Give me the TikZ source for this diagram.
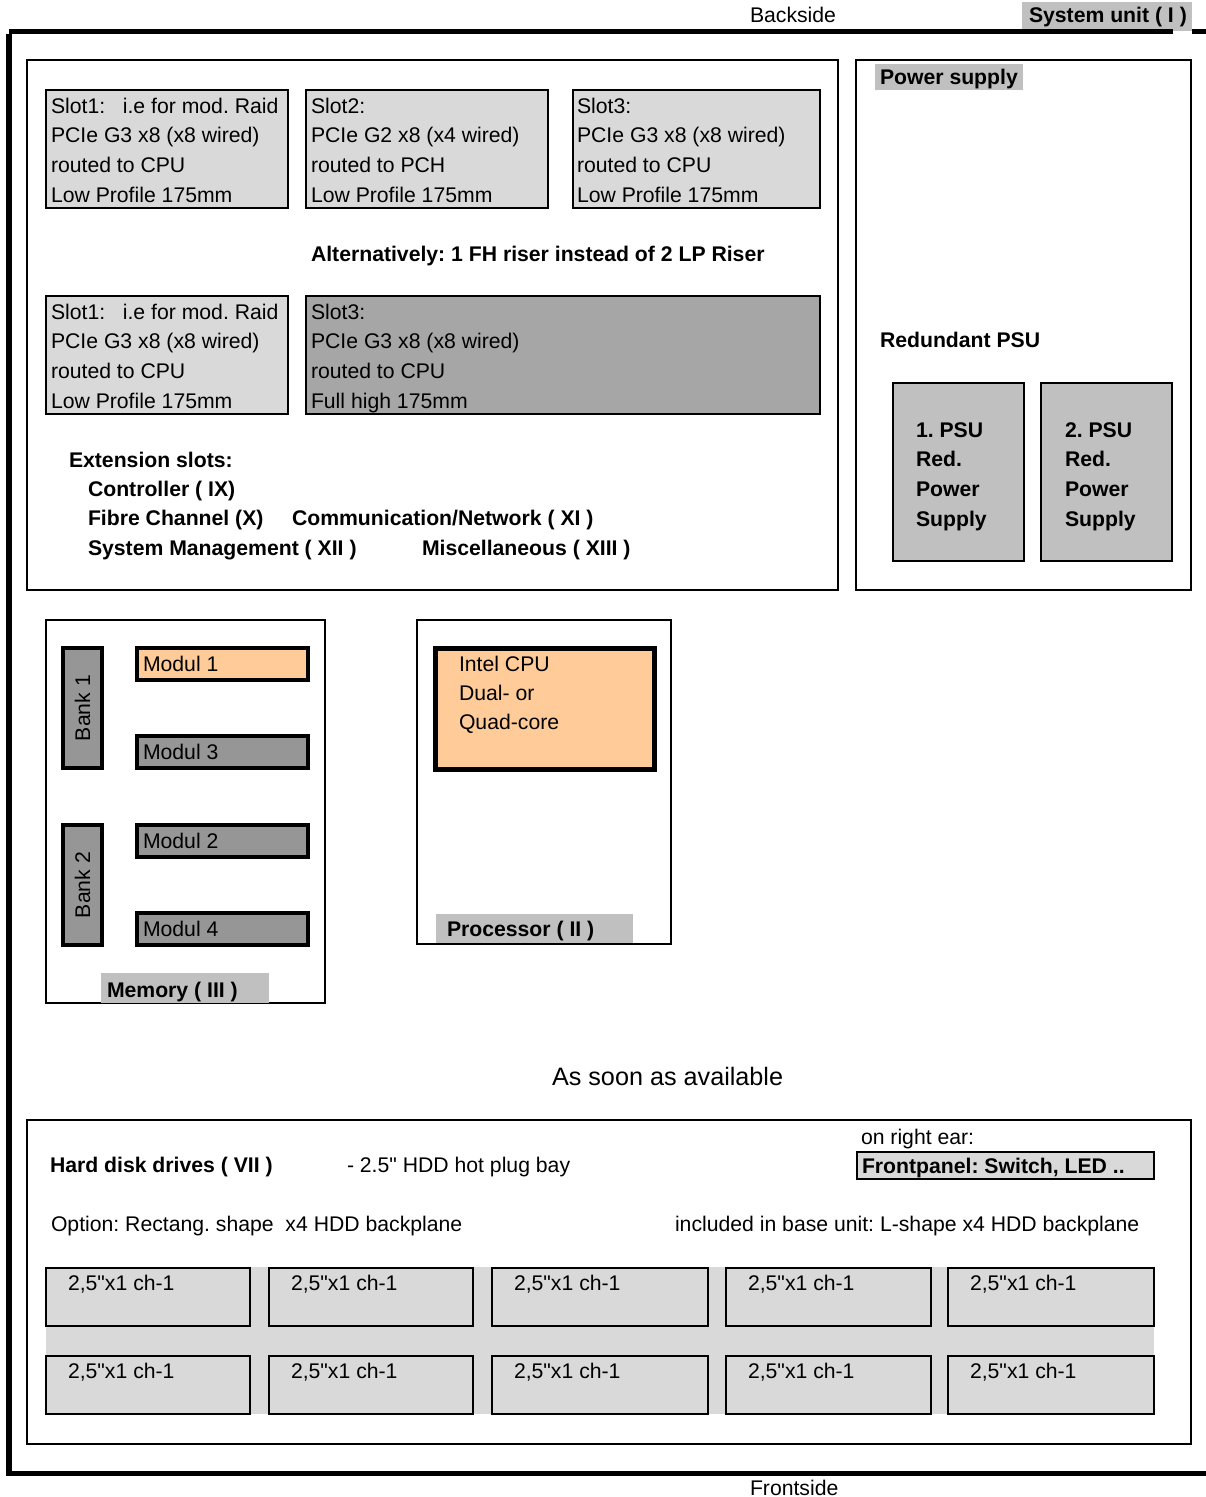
\documentclass[tikz,border=0pt]{standalone}
\usepackage{fontspec}
\setmainfont{Liberation Sans}
\frenchspacing
\definecolor{lgray}{HTML}{D9D9D9}
\definecolor{mgray}{HTML}{C0C0C0}
\definecolor{fhgray}{HTML}{A6A6A6}
\definecolor{dgray}{HTML}{969696}
\definecolor{peach}{HTML}{FFCC99}
\begin{document}
\begin{tikzpicture}[x=1pt,y=-1pt,
  every node/.style={inner sep=0pt, outer sep=0pt},
  frame/.style={draw=black, line width=2pt, anchor=north west},
  slotbox/.style={draw=black, line width=2pt, fill=lgray, anchor=north west},
  fhbox/.style={slotbox, fill=fhgray},
  psubox/.style={draw=black, line width=2.5pt, fill=mgray, anchor=north west},
  modbox/.style={draw=black, line width=4pt, fill=dgray, anchor=north west},
  cpubox/.style={draw=black, line width=5pt, fill=peach, anchor=north west},
  labelbg/.style={fill=mgray, anchor=north west},
  txt/.style={font=\fontsize{21.2}{29.7}\selectfont, anchor=base west, align=left},
  btxt/.style={font=\fontsize{21.2}{29.7}\selectfont\bfseries, anchor=base west, align=left},
  hddbox/.style={draw=black, line width=2pt, fill=lgray, anchor=north west, minimum height=58pt}
]
\useasboundingbox (0,0) rectangle (1206,1497);

% ---------- outer system frame ----------
\node[labelbg, minimum width=170pt, minimum height=29pt] (sysbg) at (1022,2) {};
\coordinate (tl) at (9,31);
\coordinate (tgap1) at (1173,31);
\coordinate (tgap2) at (1192,31);
\coordinate (tr) at (1206,31);
\coordinate (bl) at (9,1473);
\coordinate (br) at (1206,1473);
\draw[line width=5pt] (tl) -- (tgap1);
\draw[line width=5pt] (tgap2) -- (tr);
\draw[line width=6pt] ([yshift=-2.5pt]tl) -- ([yshift=2.5pt]bl);
\draw[line width=5pt] ([xshift=-3pt]bl) -- (br);
\node[txt] (backside) at (750,22) {Backside};
\node[btxt] (sysunit) at (1029,22) {System unit ( I )};
\node[txt] (frontside) at (750,1495) {Frontside};

% ---------- extension slot area ----------
% (multi-line texts: base anchor = baseline of last line, first baseline + 3 x 29.7)
\node[frame, minimum width=811pt, minimum height=530pt] (slotarea) at (27,60) {};
\node[slotbox, minimum width=242pt, minimum height=118pt] (s1a) at (46,90) {};
\node[slotbox, minimum width=242pt, minimum height=118pt] (s2a) at (306,90) {};
\node[slotbox, minimum width=247pt, minimum height=118pt] (s3a) at (573,90) {};
\node[txt] (t1a) at (51,202.1) {Slot1:\ \ \ i.e for mod. Raid\\PCIe G3 x8 (x8 wired)\\routed to CPU\\Low Profile 175mm};
\node[txt] (t2a) at (311,202.1) {Slot2:\\PCIe G2 x8 (x4 wired)\\routed to PCH\\Low Profile 175mm};
\node[txt] (t3a) at (577,202.1) {Slot3:\\PCIe G3 x8 (x8 wired)\\routed to CPU\\Low Profile 175mm};

\node[btxt] (alt) at (311,261) {Alternatively: 1 FH riser instead of 2 LP Riser};

\node[slotbox, minimum width=242pt, minimum height=118pt] (s1b) at (46,296) {};
\node[fhbox, minimum width=514pt, minimum height=118pt] (s3b) at (306,296) {};
\node[txt] (t1b) at (51,408.1) {Slot1:\ \ \ i.e for mod. Raid\\PCIe G3 x8 (x8 wired)\\routed to CPU\\Low Profile 175mm};
\node[txt] (t3b) at (311,408.1) {Slot3:\\PCIe G3 x8 (x8 wired)\\routed to CPU\\Full high 175mm};

\node[btxt] (ext) at (69,467) {Extension slots:};
\node[btxt] (ctrl) at (88,496) {Controller ( IX)};
\node[btxt] (fc) at (88,525) {Fibre Channel (X)};
\node[btxt] (comm) at (292,525) {Communication/Network ( XI )};
\node[btxt] (sysman) at (88,555) {System Management ( XII )};
\node[btxt] (misc) at (422,555) {Miscellaneous ( XIII )};

% ---------- power supply ----------
\node[frame, minimum width=335pt, minimum height=530pt] (psarea) at (856,60) {};
\node[labelbg, minimum width=148pt, minimum height=26pt] (psbg) at (875,64) {};
\node[btxt] (pstitle) at (880,84) {Power supply};
\node[btxt] (redpsu) at (880,347) {Redundant PSU};
\node[psubox, minimum width=131pt, minimum height=178pt] (psu1) at (893,383) {};
\node[psubox, minimum width=131pt, minimum height=178pt] (psu2) at (1041,383) {};
\node[btxt] (psu1t) at (916,526.1) {1. PSU\\Red.\\Power\\Supply};
\node[btxt] (psu2t) at (1065,526.1) {2. PSU\\Red.\\Power\\Supply};

% ---------- memory ----------
\node[frame, minimum width=279pt, minimum height=383pt] (mem) at (46,620) {};
\node[modbox, minimum width=39pt, minimum height=120pt] (bank1) at (63,648) {};
\node[modbox, minimum width=39pt, minimum height=120pt] (bank2) at (63,825) {};
\node[font=\fontsize{21.2}{25}\selectfont, rotate=90] (bank1t) at (bank1.center) {Bank 1};
\node[font=\fontsize{21.2}{25}\selectfont, rotate=90] (bank2t) at (bank2.center) {Bank 2};
\node[modbox, fill=peach, minimum width=171pt, minimum height=32pt] (m1) at (137,648) {};
\node[modbox, minimum width=171pt, minimum height=32pt] (m3) at (137,736) {};
\node[modbox, minimum width=171pt, minimum height=32pt] (m2) at (137,825) {};
\node[modbox, minimum width=171pt, minimum height=32pt] (m4) at (137,913) {};
\node[txt] (m1t) at (143,671) {Modul 1};
\node[txt] (m3t) at (143,759) {Modul 3};
\node[txt] (m2t) at (143,848) {Modul 2};
\node[txt] (m4t) at (143,936) {Modul 4};
\node[labelbg, minimum width=168pt, minimum height=30pt] (membg) at (101,973) {};
\node[btxt] (memt) at (107,997) {Memory ( III )};

% ---------- processor ----------
\node[frame, minimum width=254pt, minimum height=324pt] (proc) at (417,620) {};
\node[cpubox, minimum width=219pt, minimum height=121pt] (cpu) at (435,648) {};
\node[txt, font=\fontsize{21.2}{29}\selectfont] (cput) at (459,729) {Intel CPU\\Dual- or\\Quad-core};
\node[labelbg, minimum width=197pt, minimum height=29pt] (procbg) at (436,914) {};
\node[btxt] (proct) at (447,936) {Processor ( II )};

% ---------- as soon as available ----------
\node[font=\fontsize{25.2}{30}\selectfont, anchor=base west] (asap) at (552,1085) {As soon as available};

% ---------- hard disk drives ----------
\node[frame, minimum width=1164pt, minimum height=324pt] (hdd) at (27,1120) {};
\node[btxt] (hddt) at (50,1172) {Hard disk drives ( VII )};
\node[txt] (bay) at (347,1172) {- 2.5\textquotedbl{} HDD hot plug bay};
\node[txt] (ear) at (861,1144) {on right ear:};
\node[slotbox, minimum width=297pt, minimum height=27pt] (fp) at (857,1152) {};
\node[btxt] (fpt) at (862,1173) {Frontpanel: Switch, LED ..};
\node[txt] (opt) at (51,1231) {Option: Rectang. shape\ \ x4 HDD backplane};
\node[txt] (incl) at (675,1231) {included in base unit: L-shape x4 HDD backplane};

\node[fill=lgray, anchor=north west, minimum width=1108pt, minimum height=147pt] (bp) at (46,1267) {};
\foreach \x/\w [count=\i] in {46/204, 269/204, 492/216, 726/205, 948/206} {
  \node[hddbox, minimum width=\w pt] (ha\i) at (\x,1268) {};
  \node[txt] (hat\i) at ([xshift=22pt,yshift=-22pt]ha\i.north west) {2,5\textquotedbl{}x1 ch-1};
  \node[hddbox, minimum width=\w pt] (hb\i) at (\x,1356) {};
  \node[txt] (hbt\i) at ([xshift=22pt,yshift=-22pt]hb\i.north west) {2,5\textquotedbl{}x1 ch-1};
}
\end{tikzpicture}
\end{document}
